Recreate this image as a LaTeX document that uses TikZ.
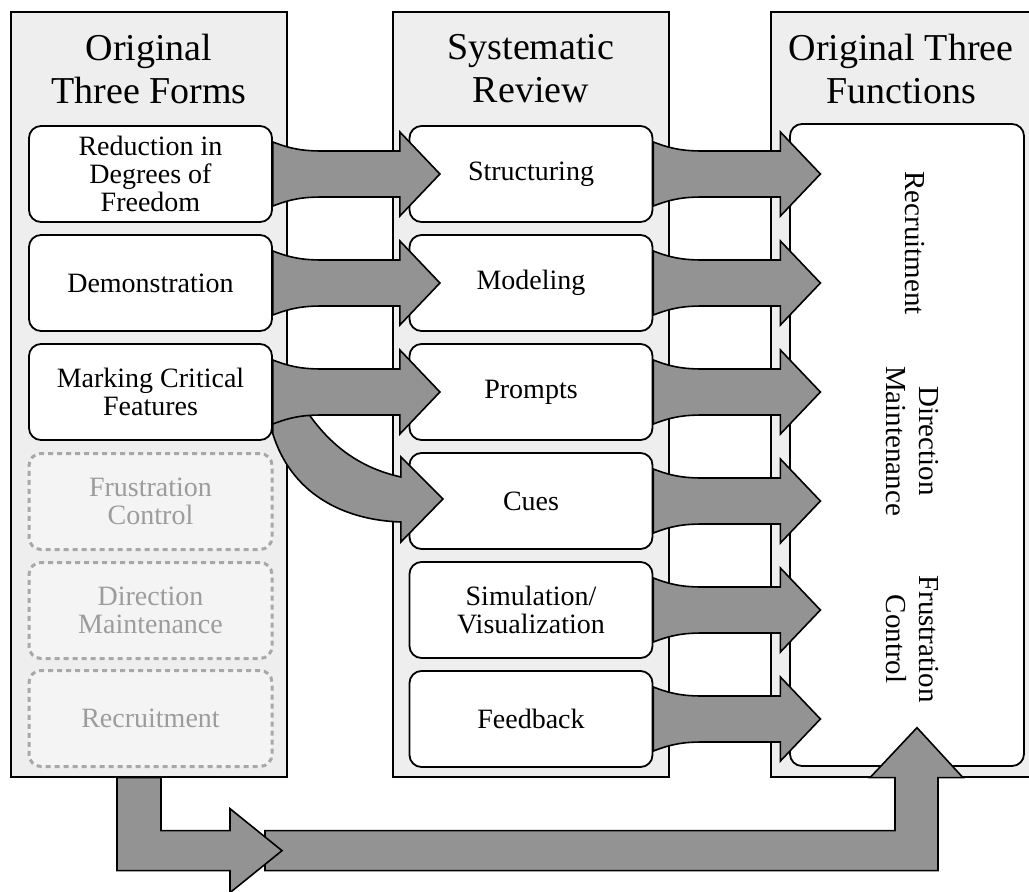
\documentclass[tikz,border=0pt]{standalone}
\usepackage{fontspec}
\setmainfont{Liberation Serif}
\usetikzlibrary{positioning,calc}
\definecolor{panelgray}{HTML}{EEEEEE}
\definecolor{arrowgray}{HTML}{939393}
\definecolor{ghostline}{HTML}{A8A8A8}
\definecolor{ghostfill}{HTML}{F4F4F4}
\definecolor{ghosttext}{HTML}{9C9C9C}
% fat arrow leaving the east side of a box
\newcommand{\fatarrow}[1]{\draw[fat arrow,shift={(#1.east)}] (0,-32) .. controls (18,-25) and (30,-23) .. (50,-23) -- (127,-23) -- (127,-42) -- (167,0) -- (127,42) -- (127,23) -- (50,23) .. controls (30,23) and (18,25) .. (0,32) -- cycle;}

\begin{document}
\begin{tikzpicture}[x=1pt,y=-1pt,
panel/.style={draw=black,line width=1.3pt,fill=panelgray,minimum height=765pt,inner sep=0pt},
head text/.style={font=\fontsize{38}{43}\selectfont,align=center},
main node/.style={draw=black,line width=1.8pt,fill=white,rounded corners=12pt,minimum width=243pt,minimum height=96pt,inner sep=0pt,align=center,font=\fontsize{28}{28}\selectfont},
ghost node/.style={main node,draw=ghostline,fill=ghostfill,text=ghosttext,dash pattern=on 5pt off 4pt,line width=3pt},
side text/.style={font=\fontsize{29}{33}\selectfont,align=center,rotate=-90},
fat arrow/.style={draw=black,line width=1.6pt,fill=arrowgray,line join=miter}]
\useasboundingbox (0,0) rectangle (1029,892);
\begin{scope}
\node[panel,minimum width=276pt] (p1) at (149,394.5) {};
\node[panel,minimum width=276pt] (p2) at (531,394.5) {};
\node[panel,minimum width=262pt] (p3) at (902,394.5) {};
\node[head text] (h1) at (149,69) {Original\\Three Forms};
\node[head text] (h2) at (531,69) {Systematic\\Review};
\node[head text] (h3) at (901,69) {Original Three\\Functions};
\end{scope}
\begin{scope}
\node[main node] (f1) at (150.5,174) {Reduction in\\Degrees of\\Freedom};
\node[main node] (f2) at (150.5,283) {Demonstration};
\node[main node] (f3) at (150.5,392) {Marking Critical\\Features};
\node[ghost node] (f4) at (150.5,501.5) {Frustration\\Control};
\node[ghost node] (f5) at (150.5,610.5) {Direction\\Maintenance};
\node[ghost node] (f6) at (150.5,718.5) {Recruitment};
\node[main node] (r1) at (531,174) {Structuring};
\node[main node] (r2) at (531,283) {Modeling};
\node[main node] (r3) at (531,392) {Prompts};
\node[main node] (r4) at (531,501) {Cues};
\node[main node] (r5) at (531,610) {Simulation/\\Visualization};
\node[main node] (r6) at (531,719) {Feedback};
\node[main node,minimum width=234pt,minimum height=642pt] (fn) at (907,445) {};
\node[side text] (t1) at (915,243) {Recruitment};
\node[side text] (t2) at (912,441) {Direction\\Maintenance};
\node[side text] (t3) at (912,639) {Frustration\\Control};
\end{scope}
%% forms -> review
\draw[fat arrow,shift={(f3.east)}] (0,-30) -- (0,42) .. controls (18,100) and (68,128) .. (128,130) -- (128,150) -- (170,107) -- (128,65) -- (128,85) .. controls (88,76) and (58,55) .. (33,18) -- cycle;
\fatarrow{f1}
\fatarrow{f2}
\fatarrow{f3}
%% review -> functions
\fatarrow{r1}
\fatarrow{r2}
\fatarrow{r3}
\fatarrow{r4}
\fatarrow{r5}
\fatarrow{r6}
%% bottom loop
\draw[fat arrow,shift={(p1.south)}] (116,53) -- (746,53) -- (746,0) -- (721,0) -- (768,-50) -- (814,0) -- (789,0) -- (789,93) -- (116,93) -- cycle;
\draw[fat arrow,shift={(p1.south)}] (-32,0) -- (12,0) -- (12,53) -- (81,53) -- (81,31) -- (133,73) -- (81,115) -- (81,93) -- (-32,93) -- cycle;
\end{tikzpicture}
\end{document}
